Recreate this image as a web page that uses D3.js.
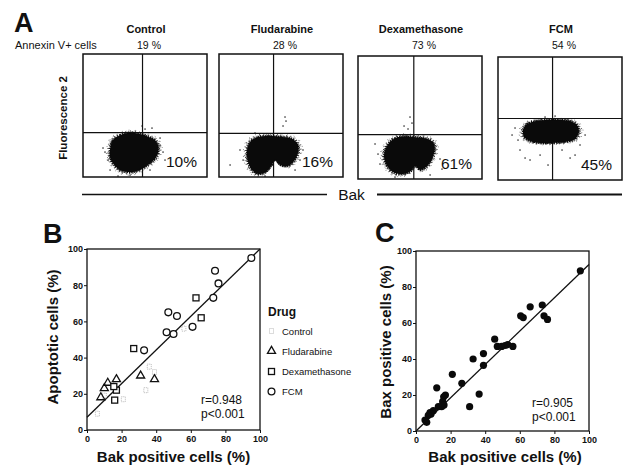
<!DOCTYPE html>
<html>
<head>
<meta charset="utf-8">
<script src="https://cdn.jsdelivr.net/npm/d3@7"></script>
<style>
  html, body { margin: 0; padding: 0; background: #fff; }
  svg { display: block; }
  text { font-family: 'Liberation Sans', Arial, Helvetica, sans-serif; fill: #111; }
</style>
</head>
<body>
<svg id="fig" width="623" height="468"></svg>
<script>
// ---------------- DATA ----------------
// Panel A: flow cytometry dot plots
const flowTitles = ["Control", "Fludarabine", "Dexamethasone", "FCM"];
const annexinPct = ["19 %", "28 %", "73 %", "54 %"];
const bakPct = ["10%", "16%", "61%", "45%"];
// quadrant gate positions (percent of plot range)
const gateX = [48, 44, 45, 44];
const gateY = [36, 35.5, 36, 50];
// dense cloud outlines (percent of plot range, y up)
const cloudControl = [[24,30],[30,34],[38,36],[46,35],[52,33],[58,30],[61,24],[59,16],[54,11],[48,7],[40,4],[31,5],[26,9],[22,15],[22,24]];
const cloudFludarabine = [[25,28.5],[31.5,32.5],[41,33.3],[51,32.5],[59,31],[63.7,26],[63.7,19.5],[60.5,13],[55.6,8.9],[49.2,9.8],[45.2,13.8],[42.7,9.8],[37.9,4.1],[31.5,2.4],[26.6,5.7],[23.4,12.2],[22.6,22]];
const cloudDexamethasone = [[24.2,28.2],[29.8,33.1],[37.9,34.7],[46,33.9],[54,33.1],[60.5,29.8],[62,24.2],[59.5,16.1],[55,9.7],[50,7.3],[46,10.5],[42.7,6.5],[36.3,4],[28.2,5.6],[22.6,12.1],[21,20.2]];
const cloudFCM = [[20.2,40.7],[23.4,45.5],[30.6,48],[40.3,48.8],[50,48.8],[58.1,48],[63.7,44.7],[65.3,39],[62.1,33.3],[54,30.9],[43.5,30.1],[33.9,30.1],[25.8,31.7],[21,35]];
// scattered events outside the dense clouds
const strayControl = [[17.7,20.3],[20.2,13.8],[16.1,23.6],[28.2,0.8],[37.9,1.6],[62.1,26],[64.5,20.3],[62.1,31.7],[50,39],[55.6,39.8],[47.6,41.5],[66.1,13.8],[21.8,5.7],[54,5.7]];
const strayFludarabine = [[16.9,22],[19.4,13.8],[8.9,9.8],[65.3,13.8],[67.7,22],[53.2,48.8],[54,45.5],[51.6,41.5],[37.1,0.8],[61.3,5.7],[29,35.8]];
const strayDexamethasone = [[13.7,28.5],[16.1,20.3],[17.7,12.2],[41.9,50.4],[43.5,45.5],[40.3,40.7],[37.1,43.1],[66.1,16.3],[67.7,8.1],[29.8,1.6],[58.1,3.3]];
const strayFCM = [[13.7,42.3],[16.1,32.5],[17.7,24.4],[21.8,17.9],[25.8,16.3],[33.9,20.3],[51.6,24.4],[58.1,17.9],[62.1,20.3],[66.1,28.5],[70.2,36.6],[40.3,12.2],[11.3,36.6],[37.9,51.2],[46,52]];

// Panel B: Bak positive cells (%) vs apoptotic cells (%)
const drugNames = ["Control", "Fludarabine", "Dexamethasone", "FCM"];
const controlPts = [[56,56],[36,35],[39,32],[34,22],[21,17],[6,9],[10,19],[15,25]];
const fludarabinePts = [[17,28],[12,26],[10,23],[8,18],[31,30],[39,28]];
const dexamethasonePts = [[63,73],[66,62],[27,45],[17,22],[15.5,24],[16,16.5]];
const fcmPts = [[95,95],[74,88],[76,81],[73,73],[47,65],[52,63],[61,57],[46,54],[50,53],[33,44]];
const regB = [[0,7],[100,100]];
const statsB = ["r=0.948", "p<0.001"];

// Panel C: Bak positive cells (%) vs Bax positive cells (%)
const baxPts = [[95,89],[73,70],[66,69],[60.5,64],[62,63],[74,64],[76,62],[45.5,51],[47,47],[49.5,47],[51.5,47.5],[53,48],[56,47],
  [33,40],[39,43],[39,36.5],[21,31.5],[26.5,26.5],[12,24],[36.5,20.5],[31,13.5],[16,19],[17,20],[15.4,16.3],[14.8,13.5],[16.2,14.4],
  [12.9,13.5],[10,11.3],[8.1,10.2],[8.7,9.4],[7.1,8.7],[5.2,6.1],[6.2,4.8]];
const regC = [[0,0],[100,92.5]];
const statsC = ["r=0.905", "p<0.001"];

const axisTicks = [0, 20, 40, 60, 80, 100];

// ---------------- DRAW ----------------
const svg = d3.select("#fig");

// Panel letters
[["A",14,32],["B",43,243],["C",375,242]].forEach(([t,x,y]) => {
  svg.append("text").attr("x",x).attr("y",y).attr("font-size",27).attr("font-weight","bold").text(t);
});

// ---- Panel A ----
const boxL = [83, 219, 358, 498], boxT = [54, 54, 56, 57], boxW = 124, boxH = 123;
const clouds = [cloudControl, cloudFludarabine, cloudDexamethasone, cloudFCM];
const strays = [strayControl, strayFludarabine, strayDexamethasone, strayFCM];
const rings = [
  {k: 1.03, dash: "1 1.6", off: 0,   w: 1.3, op: 0.9},
  {k: 1.06, dash: "1 2.4", off: 1,   w: 1.1, op: 0.8},
  {k: 1.10, dash: "0.9 3.6", off: 2, w: 1.0, op: 0.7},
  {k: 1.14, dash: "0.8 6", off: 3,   w: 1.0, op: 0.6}
];

svg.append("text").attr("x",15).attr("y",49).attr("font-size",11).text("Annexin V+ cells");
svg.append("text").attr("transform","translate(66.5,118) rotate(-90)")
  .attr("text-anchor","middle").attr("font-size",11.5).attr("font-weight","bold").text("Fluorescence 2");

flowTitles.forEach((title, i) => {
  const L = boxL[i], T = boxT[i];
  const sx = d3.scaleLinear().domain([0,100]).range([L, L+boxW]);
  const sy = d3.scaleLinear().domain([0,100]).range([T+boxH, T]);
  const g = svg.append("g");
  svg.append("text").attr("x", L+boxW/2+1).attr("y",32.5).attr("text-anchor","middle")
    .attr("font-size",11).attr("font-weight","bold").text(title);
  svg.append("text").attr("x", L+boxW/2+4).attr("y",49).attr("text-anchor","middle")
    .attr("font-size",10.5).text(annexinPct[i]);
  // gates
  g.append("line").attr("x1",sx(gateX[i])).attr("x2",sx(gateX[i])).attr("y1",sy(0)).attr("y2",sy(100))
    .attr("stroke","#111").attr("stroke-width",1.2);
  g.append("line").attr("x1",sx(0)).attr("x2",sx(100)).attr("y1",sy(gateY[i])).attr("y2",sy(gateY[i]))
    .attr("stroke","#111").attr("stroke-width",1.2);
  // cloud with speckled fringe rings around its centroid
  const pts = clouds[i];
  const cx = d3.mean(pts, d=>d[0]), cy = d3.mean(pts, d=>d[1]);
  const line = d3.line().curve(d3.curveCatmullRomClosed);
  rings.forEach(r => {
    const p = pts.map(d => [sx(cx + (d[0]-cx)*r.k), sy(cy + (d[1]-cy)*r.k)]);
    g.append("path").attr("d", line(p)).attr("fill","none").attr("stroke","#111")
      .attr("stroke-width", r.w).attr("stroke-dasharray", r.dash).attr("stroke-dashoffset", r.off)
      .attr("stroke-opacity", r.op);
  });
  g.append("path").attr("d", line(pts.map(d=>[sx(d[0]), sy(d[1])]))).attr("fill","#0a0a0a").attr("stroke","#0a0a0a")
    .attr("stroke-width",1.5).attr("stroke-dasharray","1.2 1");
  g.selectAll("rect.ev").data(strays[i]).join("rect").attr("class","ev")
    .attr("x", d=>sx(d[0])-0.6).attr("y", d=>sy(d[1])-0.6).attr("width",1.3).attr("height",1.3).attr("fill","#111");
  // frame
  g.append("rect").attr("x",L).attr("y",T).attr("width",boxW).attr("height",boxH)
    .attr("fill","none").attr("stroke","#111").attr("stroke-width",1.5);
  // Bak percentage
  g.append("text").attr("x", L+boxW-10).attr("y", T+113).attr("text-anchor","end")
    .attr("font-size",15.5).text(bakPct[i]);
});

// Bak axis line
svg.append("line").attr("x1",82).attr("x2",327).attr("y1",194.5).attr("y2",194.5).attr("stroke","#111").attr("stroke-width",1.6);
svg.append("line").attr("x1",377).attr("x2",622).attr("y1",194.5).attr("y2",194.5).attr("stroke","#111").attr("stroke-width",1.9);
svg.append("text").attr("x",351.5).attr("y",199.5).attr("text-anchor","middle").attr("font-size",15.5).text("Bak");

// ---- Scatter panel helper ----
function scatterPanel(x0, x1, yTop, yBot) {
  const x = d3.scaleLinear().domain([0,100]).range([x0,x1]);
  const y = d3.scaleLinear().domain([0,100]).range([yBot,yTop]);
  const ax = svg.append("g").attr("transform",`translate(0,${yBot})`)
    .call(d3.axisBottom(x).tickValues(axisTicks).tickSize(3).tickPadding(2.5).tickSizeOuter(0));
  const ay = svg.append("g").attr("transform",`translate(${x0},0)`)
    .call(d3.axisLeft(y).tickValues(axisTicks).tickSize(3).tickPadding(1).tickSizeOuter(0));
  [ax, ay].forEach(a => {
    a.select(".domain").remove();
    a.selectAll("line").attr("stroke","#111").attr("stroke-width",1);
    a.selectAll("text").attr("font-size",9).attr("font-weight","bold")
      .attr("font-family","'Liberation Sans', Arial, sans-serif").attr("fill","#111");
  });
  svg.append("rect").attr("x",x0).attr("y",yTop).attr("width",x1-x0).attr("height",yBot-yTop)
    .attr("fill","none").attr("stroke","#111").attr("stroke-width",1.3);
  return {x, y};
}

// ---- Panel B ----
const B = scatterPanel(87, 260, 249, 430);
svg.append("path").attr("d", d3.line().x(d=>B.x(d[0])).y(d=>B.y(d[1]))(regB))
  .attr("stroke","#111").attr("stroke-width",1.3).attr("fill","none");
const gB = svg.append("g");
gB.selectAll("rect.ctl").data(controlPts).join("rect").attr("class","ctl")
  .attr("x",d=>B.x(d[0])-2).attr("y",d=>B.y(d[1])-2.5).attr("width",4).attr("height",5)
  .attr("fill","none").attr("stroke","#b8b8b8").attr("stroke-width",1).attr("stroke-dasharray","1 1");
const tri = d3.symbol().type(d3.symbolTriangle).size(28);
gB.selectAll("path.flu").data(fludarabinePts).join("path").attr("class","flu")
  .attr("d", tri).attr("transform", d=>`translate(${B.x(d[0])},${B.y(d[1])})`)
  .attr("fill","none").attr("stroke","#111").attr("stroke-width",1.3);
gB.selectAll("rect.dex").data(dexamethasonePts).join("rect").attr("class","dex")
  .attr("x",d=>B.x(d[0])-3).attr("y",d=>B.y(d[1])-3).attr("width",6).attr("height",6)
  .attr("fill","#fff").attr("stroke","#111").attr("stroke-width",1.3);
gB.selectAll("circle.fcm").data(fcmPts).join("circle").attr("class","fcm")
  .attr("cx",d=>B.x(d[0])).attr("cy",d=>B.y(d[1])).attr("r",3.4)
  .attr("fill","#fff").attr("stroke","#111").attr("stroke-width",1.3);
svg.append("text").attr("x",201).attr("y",404).attr("font-size",12).text(statsB[0]);
svg.append("text").attr("x",201).attr("y",418).attr("font-size",12).text(statsB[1]);
svg.append("text").attr("x",173.5).attr("y",462).attr("text-anchor","middle").attr("font-size",15).attr("font-weight","bold").text("Bak positive cells (%)");
svg.append("text").attr("transform","translate(57.5,337) rotate(-90)").attr("text-anchor","middle")
  .attr("font-size",15).attr("font-weight","bold").text("Apoptotic cells (%)");

// Legend
svg.append("text").attr("x",268).attr("y",315.5).attr("font-size",12).attr("font-weight","bold").text("Drug");
const legY = [331, 351, 371.5, 391.5];
drugNames.forEach((name, i) => {
  const cx = 271.5, cy = legY[i];
  if (i === 0) {
    svg.append("rect").attr("x",cx-2).attr("y",cy-2.5).attr("width",4).attr("height",5)
      .attr("fill","none").attr("stroke","#b8b8b8").attr("stroke-width",1).attr("stroke-dasharray","1 1");
  } else if (i === 1) {
    svg.append("path").attr("d",tri).attr("transform",`translate(${cx},${cy})`)
      .attr("fill","none").attr("stroke","#111").attr("stroke-width",1.3);
  } else if (i === 2) {
    svg.append("rect").attr("x",cx-3).attr("y",cy-3).attr("width",6).attr("height",6)
      .attr("fill","none").attr("stroke","#111").attr("stroke-width",1.3);
  } else {
    svg.append("circle").attr("cx",cx).attr("cy",cy).attr("r",3.4)
      .attr("fill","none").attr("stroke","#111").attr("stroke-width",1.3);
  }
  svg.append("text").attr("x",282).attr("y",cy+3.5).attr("font-size",9.5).text(name);
});

// ---- Panel C ----
const C = scatterPanel(416, 589, 251, 431);
svg.append("path").attr("d", d3.line().x(d=>C.x(d[0])).y(d=>C.y(d[1]))(regC))
  .attr("stroke","#111").attr("stroke-width",1.3).attr("fill","none");
svg.append("g").selectAll("circle").data(baxPts).join("circle")
  .attr("cx",d=>C.x(d[0])).attr("cy",d=>C.y(d[1])).attr("r",3.6).attr("fill","#0a0a0a");
svg.append("text").attr("x",532).attr("y",407).attr("font-size",12).text(statsC[0]);
svg.append("text").attr("x",532).attr("y",421).attr("font-size",12).text(statsC[1]);
svg.append("text").attr("x",505).attr("y",462).attr("text-anchor","middle").attr("font-size",15).attr("font-weight","bold").text("Bak positive cells (%)");
svg.append("text").attr("transform","translate(391,342) rotate(-90)").attr("text-anchor","middle")
  .attr("font-size",15).attr("font-weight","bold").text("Bax positive cells (%)");
</script>
</body>
</html>
